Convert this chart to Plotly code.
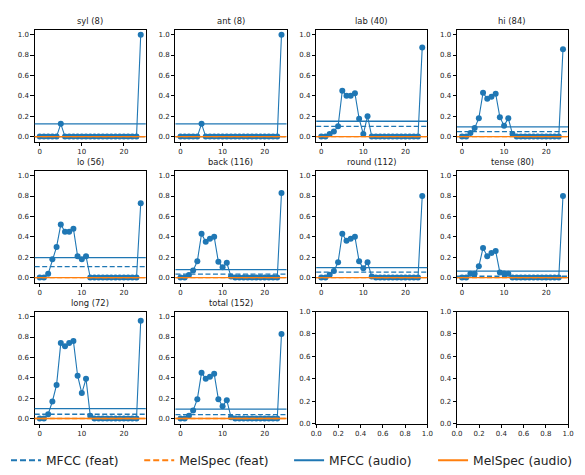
import plotly.graph_objects as go

x_vals = list(range(25))

titles = ["syl (8)", "ant (8)", "lab (40)", "hi (84)",
          "lo (56)", "back (116)", "round (112)", "tense (80)",
          "long (72)", "total (152)"]

syl = [0, 0, 0, 0, 0, 0.125, 0, 0, 0, 0, 0, 0, 0, 0, 0, 0, 0, 0, 0, 0, 0, 0, 0, 0, 1.0]
ant = [0, 0, 0, 0, 0, 0.125, 0, 0, 0, 0, 0, 0, 0, 0, 0, 0, 0, 0, 0, 0, 0, 0, 0, 0, 1.0]
lab = [0, 0, 0.025, 0.05, 0.1, 0.45, 0.4, 0.4, 0.425, 0.175, 0.025, 0.2, 0, 0, 0, 0, 0, 0, 0, 0, 0, 0, 0, 0, 0.875]
hi = [0, 0, 0.036, 0.083, 0.18, 0.43, 0.37, 0.39, 0.42, 0.19, 0.107, 0.18, 0.024, 0, 0, 0, 0, 0, 0, 0, 0, 0, 0, 0, 0.857]
lo = [0, 0, 0.036, 0.18, 0.30, 0.52, 0.45, 0.45, 0.48, 0.21, 0.18, 0.21, 0, 0, 0, 0, 0, 0, 0, 0, 0, 0, 0, 0, 0.73]
back = [0, 0, 0.026, 0.069, 0.16, 0.43, 0.35, 0.38, 0.40, 0.155, 0.10, 0.145, 0.009, 0, 0, 0, 0, 0, 0, 0, 0, 0, 0, 0, 0.83]
round_ = [0, 0, 0.027, 0.063, 0.15, 0.43, 0.36, 0.38, 0.40, 0.16, 0.09, 0.15, 0.009, 0, 0, 0, 0, 0, 0, 0, 0, 0, 0, 0, 0.80]
tense = [0, 0, 0.038, 0.038, 0.11, 0.29, 0.21, 0.24, 0.26, 0.05, 0.04, 0.038, 0, 0, 0, 0, 0, 0, 0, 0, 0, 0, 0, 0, 0.80]
long_ = [0, 0, 0.042, 0.167, 0.33, 0.74, 0.71, 0.74, 0.76, 0.42, 0.25, 0.39, 0.028, 0, 0, 0, 0, 0, 0, 0, 0, 0, 0, 0, 0.96]
total = [0, 0, 0.026, 0.079, 0.19, 0.45, 0.39, 0.41, 0.44, 0.19, 0.12, 0.18, 0.013, 0, 0, 0, 0, 0, 0, 0, 0, 0, 0, 0, 0.83]

series = [syl, ant, lab, hi, lo, back, round_, tense, long_, total]

mfcc_feat = [0.0, 0.0, 0.1, 0.048, 0.107, 0.034, 0.054, 0.0125, 0.042, 0.039]
melspec_feat = [0, 0, 0, 0, 0, 0, 0, 0, 0, 0]
mfcc_audio = [0.125, 0.125, 0.15, 0.095, 0.196, 0.078, 0.098, 0.063, 0.097, 0.092]
melspec_audio = [0, 0, 0, 0, 0, 0, 0, 0, 0, 0]

legend_names = ["MFCC (feat)", "MelSpec (feat)", "MFCC (audio)", "MelSpec (audio)"]

BLUE = "#1f77b4"
ORANGE = "#ff7f0e"
W, H = 585, 475

left0, colstep, axw = 29.3, 143.7, 113.4
top0, rowstep, axh = 26.0, 143.4, 114.0

fig = go.Figure()
layout = {}
annotations = []
shapes = []
tickfont = dict(family="DejaVu Sans", size=7, color="#222")

for i in range(12):
    r, c = divmod(i, 4)
    n = i + 1
    xl = (left0 + colstep * c) / W
    xr = (left0 + colstep * c + axw) / W
    yt = 1 - (top0 + rowstep * r) / H
    yb = 1 - (top0 + rowstep * r + axh) / H
    xa = "xaxis" if n == 1 else f"xaxis{n}"
    ya = "yaxis" if n == 1 else f"yaxis{n}"
    xref = "x" if n == 1 else f"x{n}"
    yref = "y" if n == 1 else f"y{n}"
    common = dict(showgrid=False, zeroline=False, showline=True, linecolor="black",
                  linewidth=0.8, mirror=True, ticks="outside", ticklen=3.5,
                  tickwidth=0.8, tickcolor="black", tickfont=tickfont)
    if i < 10:
        layout[xa] = dict(domain=[xl, xr], anchor=yref, range=[-1.2, 25.2],
                          tickvals=[0, 10, 20], **common)
        layout[ya] = dict(domain=[yb, yt], anchor=xref, range=[-0.05, 1.05],
                          tickvals=[0, 0.2, 0.4, 0.6, 0.8, 1.0], tickformat=".1f", **common)
        fig.add_trace(go.Scatter(x=x_vals, y=series[i], mode="lines+markers",
                                 line=dict(color=BLUE, width=1.1),
                                 marker=dict(color=BLUE, size=6),
                                 xaxis=xref, yaxis=yref, showlegend=False))
        for val, col, dash in [(mfcc_feat[i], BLUE, "5px,2.5px"),
                               (melspec_feat[i], ORANGE, "5px,2.5px"),
                               (mfcc_audio[i], BLUE, "solid"),
                               (melspec_audio[i], ORANGE, "solid")]:
            shapes.append(dict(type="line", xref=f"{xref} domain", yref=yref,
                               x0=0, x1=1, y0=val, y1=val,
                               line=dict(color=col, width=1.3, dash=dash),
                               layer="above"))
        annotations.append(dict(text=titles[i], xref="paper", yref="paper",
                                x=(xl + xr) / 2, y=yt + 2 / H, xanchor="center",
                                yanchor="bottom", showarrow=False,
                                font=dict(family="DejaVu Sans", size=8.4, color="#222")))
    else:
        layout[xa] = dict(domain=[xl, xr], anchor=yref, range=[0, 1],
                          tickvals=[0, 0.2, 0.4, 0.6, 0.8, 1.0], tickformat=".1f", **common)
        layout[ya] = dict(domain=[yb, yt], anchor=xref, range=[0, 1],
                          tickvals=[0, 0.2, 0.4, 0.6, 0.8, 1.0], tickformat=".1f", **common)
        fig.add_trace(go.Scatter(x=[None], y=[None], xaxis=xref, yaxis=yref, showlegend=False))

legend_styles = [(BLUE, "6px,3px"), (ORANGE, "6px,3px"), (BLUE, "solid"), (ORANGE, "solid")]
legend_left_px = [0, 136, 289, 436]
for k, (name, (col, dash)) in enumerate(zip(legend_names, legend_styles)):
    lname = "legend" if k == 0 else f"legend{k + 1}"
    fig.add_trace(go.Scatter(x=[None], y=[None], mode="lines", name=name, legend=lname,
                             line=dict(color=col, width=2, dash=dash)))
    layout[lname] = dict(orientation="h", x=legend_left_px[k] / W, xanchor="left",
                         y=1 - 464 / H, yanchor="middle", bgcolor="rgba(0,0,0,0)",
                         font=dict(family="DejaVu Sans", size=12.3, color="#222"),
                         itemwidth=30)

fig.update_layout(**layout)
fig.update_layout(
    width=W, height=H, margin=dict(l=0, r=0, t=0, b=0),
    paper_bgcolor="white", plot_bgcolor="white",
    annotations=annotations, shapes=shapes,
)
fig.write_html("out.html")
